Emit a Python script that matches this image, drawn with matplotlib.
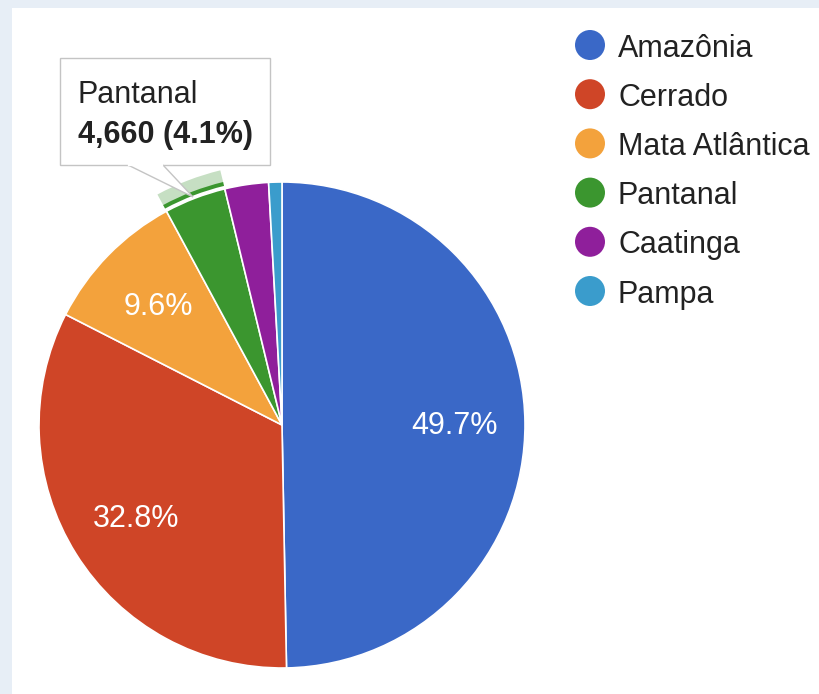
import matplotlib
matplotlib.use("Agg")
import matplotlib.pyplot as plt
from matplotlib.patches import Rectangle, Wedge, Circle, Polygon
import numpy as np

plt.rcParams['font.family'] = ['Liberation Sans', 'DejaVu Sans']

# ---- data ----
categories = ["Amazônia", "Cerrado", "Mata Atlântica", "Pantanal", "Caatinga", "Pampa"]
values = [56480, 37280, 10910, 4660, 3300, 1000]
colors = ["#3a68c7", "#cf4527", "#f3a23c", "#3b962f", "#8f1f9b", "#3a9ccc"]
highlight = "Pantanal"

W, H = 819, 694
fig = plt.figure(figsize=(W / 100, H / 100), dpi=100)
fig.patch.set_facecolor("#e7eef6")
ax = fig.add_axes([0, 0, 1, 1])

def Y(y_img):
    return H - y_img

cx, cy, R = 282, Y(425), 243
FS = 22

# white panel
ax.add_patch(Rectangle((12, 0), W - 12, H - 8, facecolor="white", edgecolor="none", zorder=0))

total = sum(values)

def pct_fmt(p):
    return f"{p:.1f}%" if p >= 5 else ""

wedges, texts, autotexts = ax.pie(
    values, colors=colors, center=(cx, cy), radius=R, startangle=90, counterclock=False,
    autopct=pct_fmt, pctdistance=0.71,
    wedgeprops=dict(edgecolor="white", linewidth=1.2),
    textprops=dict(color="white", fontsize=FS),
)
for w in wedges:
    w.set_zorder(2)
for t in autotexts:
    t.set_zorder(3)
    x, y = t.get_position()
    t.set_position((x, y - 3))

# hover ring on highlighted slice
idx = categories.index(highlight)
cum = np.cumsum([0] + values) / total
a_start = 90 - 360 * cum[idx + 1]
a_end = 90 - 360 * cum[idx]
ax.add_patch(Wedge((cx, cy), R + 19, a_start, a_end, width=13, facecolor="#c6dfc3", edgecolor="none", zorder=2))
ax.add_patch(Wedge((cx, cy), R + 7, a_start, a_end, width=4, facecolor=colors[idx], edgecolor="none", zorder=2))

# tooltip
ax.add_patch(Rectangle((60, Y(165)), 210, 107, facecolor="white", edgecolor="#c4c4c4", linewidth=1.0, zorder=5))
tail = [(128, Y(165)), (193, Y(197)), (163, Y(165))]
ax.add_patch(Polygon(tail, closed=False, facecolor="white", edgecolor="#c4c4c4", linewidth=1.0, zorder=6))
ax.plot([129, 162], [Y(165), Y(165)], color="white", linewidth=1.6, zorder=7)
ax.text(78, Y(103), highlight, fontsize=FS, color="#222222", va="baseline", ha="left", zorder=8)
pv = values[idx]
ax.text(78, Y(143), f"{pv:,} ({100 * pv / total:.1f}%)", fontsize=FS, fontweight="bold",
        color="#222222", va="baseline", ha="left", zorder=8)

# legend
ly0, ldy = 45, 49.2
for i, (name, col) in enumerate(zip(categories, colors)):
    yy = Y(ly0 + i * ldy)
    ax.add_patch(Circle((590, yy), 15, facecolor=col, edgecolor="none", zorder=4))
    ax.text(618, yy, name, fontsize=FS, color="#222222", va="center_baseline", ha="left", zorder=4)

ax.set_xlim(0, W)
ax.set_ylim(0, H)
ax.set_aspect("equal")
ax.axis("off")

fig.savefig("out.png", dpi=100, facecolor=fig.get_facecolor())
